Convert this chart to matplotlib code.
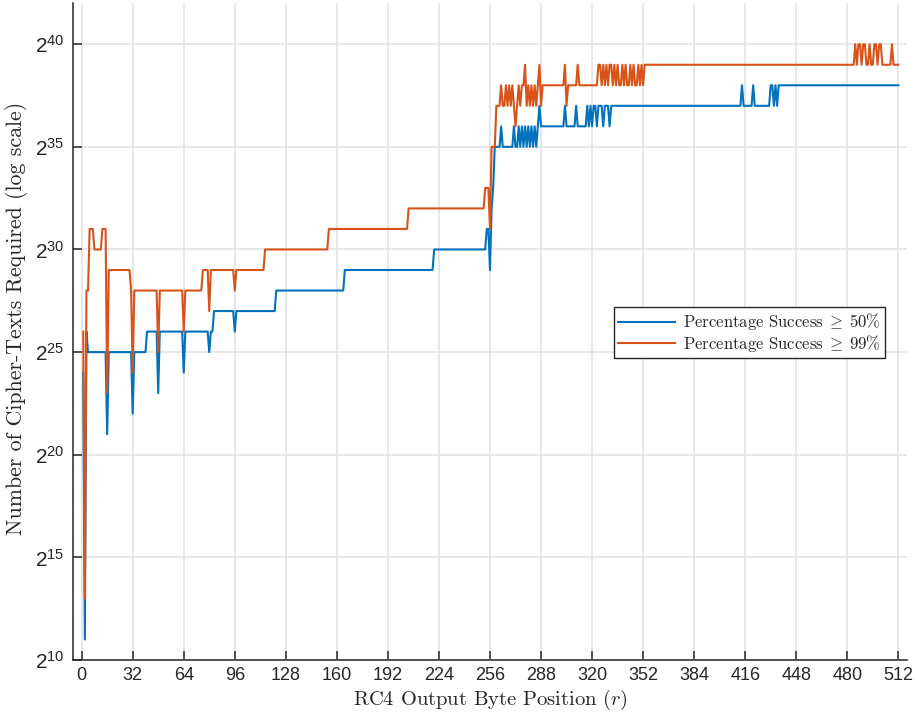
import numpy as np
import matplotlib
matplotlib.use('Agg')
import matplotlib.pyplot as plt
from matplotlib.ticker import FixedLocator, FuncFormatter, NullLocator

plt.rcParams['font.family'] = 'Liberation Sans'
plt.rcParams['mathtext.fontset'] = 'custom'
plt.rcParams['mathtext.rm'] = 'Liberation Sans'
plt.rcParams['mathtext.it'] = 'Liberation Sans:italic'

# byte positions 1..512, required cipher-texts given as powers of two.
# each series is stored as (first position, exponent) change points
positions = np.arange(1, 513)

success50 = [
    (1, 24), (2, 11), (3, 26), (4, 25), (16, 21), (17, 25), (32, 22), (33, 25),
    (41, 26), (48, 23), (49, 26), (64, 24), (65, 26), (80, 25), (81, 26),
    (83, 27), (96, 26), (97, 27), (122, 28), (165, 29), (221, 30), (254, 31),
    (256, 29), (257, 32), (258, 33), (259, 35), (263, 36), (264, 35),
    (271, 36), (272, 35), (274, 36), (275, 35), (276, 36), (277, 35),
    (278, 36), (279, 35), (280, 36), (281, 35), (282, 36), (283, 35),
    (284, 36), (285, 35), (286, 36), (287, 37), (288, 36), (303, 37),
    (304, 36), (310, 37), (311, 36), (317, 37), (318, 36), (319, 37),
    (320, 36), (321, 37), (323, 36), (324, 37), (327, 36), (328, 37),
    (331, 36), (332, 37), (414, 38), (415, 37), (421, 38), (422, 37),
    (432, 38), (434, 37), (435, 38), (436, 37), (437, 38),
]

success99 = [
    (1, 26), (2, 13), (3, 28), (5, 31), (8, 30), (13, 31), (16, 23), (17, 29),
    (31, 28), (32, 24), (33, 28), (48, 25), (49, 28), (64, 26), (65, 28),
    (76, 29), (80, 27), (81, 29), (96, 28), (97, 29), (115, 30), (155, 31),
    (205, 32), (253, 33), (256, 31), (257, 35), (260, 37), (263, 38),
    (264, 37), (266, 38), (267, 37), (268, 38), (269, 37), (270, 38),
    (271, 37), (272, 36), (273, 37), (274, 38), (275, 37), (276, 38),
    (278, 39), (279, 37), (280, 38), (281, 37), (282, 38), (283, 37),
    (284, 38), (285, 37), (286, 38), (287, 39), (288, 37), (289, 38),
    (303, 39), (304, 37), (305, 38), (311, 39), (312, 38), (324, 39),
    (326, 38), (327, 39), (328, 38), (329, 39), (330, 38), (331, 39),
    (333, 38), (334, 39), (335, 38), (336, 39), (337, 38), (339, 39),
    (340, 38), (341, 39), (342, 38), (344, 39), (345, 38), (346, 39),
    (347, 38), (349, 39), (350, 38), (351, 39), (352, 38), (353, 39),
    (485, 40), (486, 39), (487, 40), (489, 39), (490, 40), (492, 39),
    (494, 40), (495, 39), (497, 40), (499, 39), (500, 40), (502, 39),
    (508, 40), (509, 39),
]

legend_labels = [r'Percentage Success$\;\geq\;$50%',
                 r'Percentage Success$\;\geq\;$99%']


def expand(changes):
    starts = np.array([c[0] for c in changes])
    exps = np.array([c[1] for c in changes])
    idx = np.searchsorted(starts, positions, side='right') - 1
    return 2.0 ** exps[idx]


fig = plt.figure(figsize=(9.15, 7.21), dpi=100)
ax = fig.add_axes([0.080, 0.0846, 0.911, 0.911])

ax.plot(positions, expand(success50), color='#0072BD', lw=1.5, label=legend_labels[0])
ax.plot(positions, expand(success99), color='#D95319', lw=1.5, label=legend_labels[1])

ax.set_yscale('log', base=2)
ax.set_xlim(-5.3, 517.3)
ax.set_ylim(2.0 ** 10, 2.0 ** 42)

ax.xaxis.set_major_locator(FixedLocator(np.arange(0, 513, 32)))
ax.yaxis.set_major_locator(FixedLocator(2.0 ** np.arange(10, 41, 5)))
ax.yaxis.set_minor_locator(NullLocator())
ax.yaxis.set_major_formatter(FuncFormatter(
    lambda v, p: r'$\mathdefault{2^{%d}}$' % int(round(np.log2(v)))))

ax.grid(True, color='#e3e3e3', lw=1.2)
ax.set_axisbelow(True)
for side in ['top', 'right']:
    ax.spines[side].set_visible(False)
for side in ['left', 'bottom']:
    ax.spines[side].set_color('#262626')
    ax.spines[side].set_linewidth(1.1)
ax.tick_params(direction='in', length=6.5, width=1.1, color='#262626',
               labelsize=13, labelcolor='#262626')
ax.tick_params(axis='x', pad=5)
ax.tick_params(axis='y', pad=6, labelsize=15)

xl = ax.set_xlabel(r'RC4 Output Byte Position ($r$)', family='cmr10',
                   fontsize=14.8, color='#262626', labelpad=3)
yl = ax.set_ylabel('Number of Cipher-Texts Required (log scale)', family='cmr10',
                   fontsize=15.8, color='#262626')
xl.set_math_fontfamily('cm')
ax.yaxis.set_label_coords(-0.054, 0.52)

leg = ax.legend(loc='upper left', bbox_to_anchor=(0.649, 0.537),
                prop={'family': 'cmr10', 'size': 12}, fancybox=False,
                framealpha=1, edgecolor='#262626', borderpad=0.25,
                handlelength=3.4, handletextpad=0.5, labelspacing=0.05,
                borderaxespad=0)
leg.get_frame().set_linewidth(1.0)
for t in leg.get_texts():
    t.set_math_fontfamily('cm')
    t.set_color('#262626')

fig.savefig('out.png', dpi=100)
